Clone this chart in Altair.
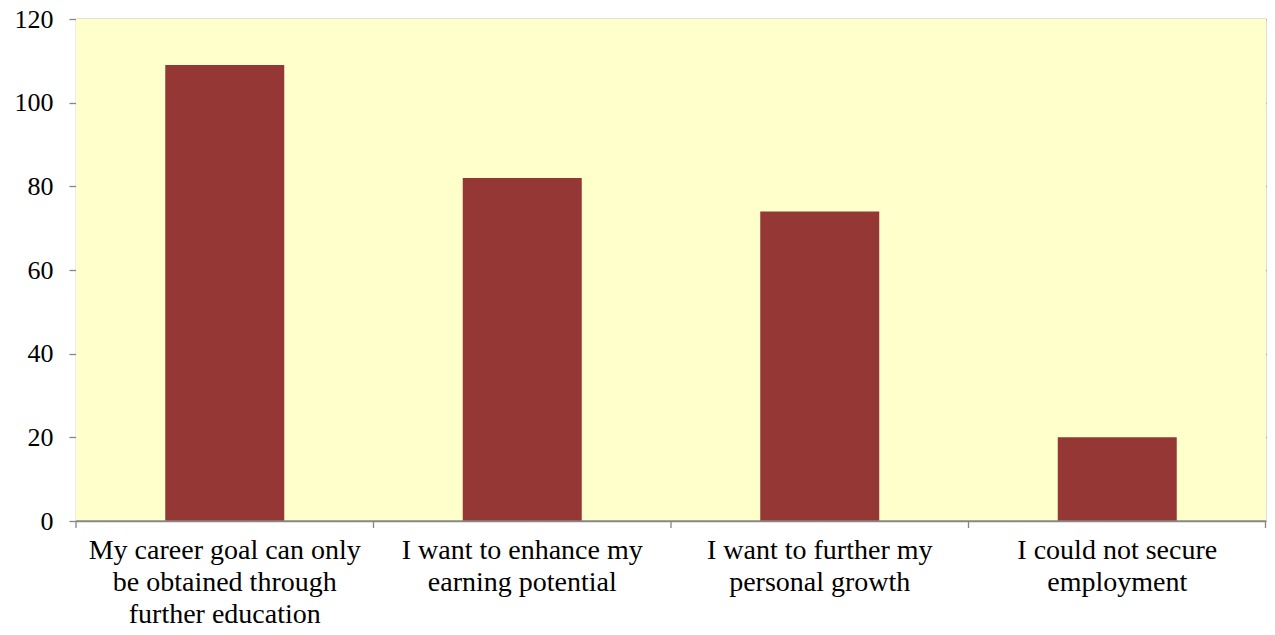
import altair as alt
import pandas as pd

categories = [
    "My career goal can only\nbe obtained through\nfurther education",
    "I want to enhance my\nearning potential",
    "I want to further my\npersonal growth",
    "I could not secure\nemployment",
]
values = [109, 82, 74, 20]
y_ticks = [0, 20, 40, 60, 80, 100, 120]

W, H = 1190, 502
FONT = "Liberation Serif"

df = pd.DataFrame({"cat": categories, "val": values})

xscale = alt.Scale(domain=categories, paddingInner=0, paddingOuter=0)
yscale = alt.Scale(domain=[0, 120], nice=False)

xaxis = alt.Axis(title=None, labelAngle=0, ticks=False, domain=False,
                 labelExpr="split(datum.value, '\\n')",
                 labelFontSize=28, labelColor="#000000",
                 labelLineHeight=32, labelPadding=15, labelLimit=400)

bg = alt.Chart(pd.DataFrame({"a": [0]})).mark_rect(color="#FFFFCC").encode(
    x=alt.value(0), x2=alt.value(W), y=alt.value(0), y2=alt.value(H),
)

bars = alt.Chart(df).mark_bar(color="#953735", width={"band": 0.4}).encode(
    x=alt.X("cat:N", scale=xscale, sort=categories, axis=xaxis),
    y=alt.Y("val:Q", scale=yscale,
            axis=alt.Axis(title=None, values=y_ticks, grid=True, gridColor="#868686",
                          gridWidth=1.3, domainColor="#868686", domainWidth=1.3,
                          tickColor="#868686", tickSize=7, tickWidth=1.3,
                          labelFontSize=26, labelColor="#000000",
                          labelPadding=16)),
)

ticks_df = pd.DataFrame({"cat": categories})
xticks = alt.Chart(ticks_df).mark_rule(color="#868686", strokeWidth=1.3).encode(
    x=alt.X("cat:N", scale=xscale, sort=categories, bandPosition=0, axis=xaxis),
    y=alt.value(H), y2=alt.value(H + 7),
)
last_tick = alt.Chart(pd.DataFrame({"a": [0]})).mark_rule(color="#868686", strokeWidth=1.3).encode(
    x=alt.value(W - 0.5), y=alt.value(H), y2=alt.value(H + 7),
)
bottom_line = alt.Chart(pd.DataFrame({"a": [0]})).mark_rule(color="#868686", strokeWidth=1.3).encode(
    x=alt.value(0), x2=alt.value(W), y=alt.value(H),
)

chart = alt.layer(bg, bars, xticks, last_tick, bottom_line).properties(
    width=W, height=H,
    autosize=alt.AutoSizeParams(type="none"),
    padding={"left": 68, "top": 11, "right": 1, "bottom": 110},
).configure_view(strokeWidth=0).configure(
    background="#FFFFFF", font=FONT
).configure_axis(labelFont=FONT)

chart.save("out.html", embed_options={"renderer": "svg", "actions": False})
